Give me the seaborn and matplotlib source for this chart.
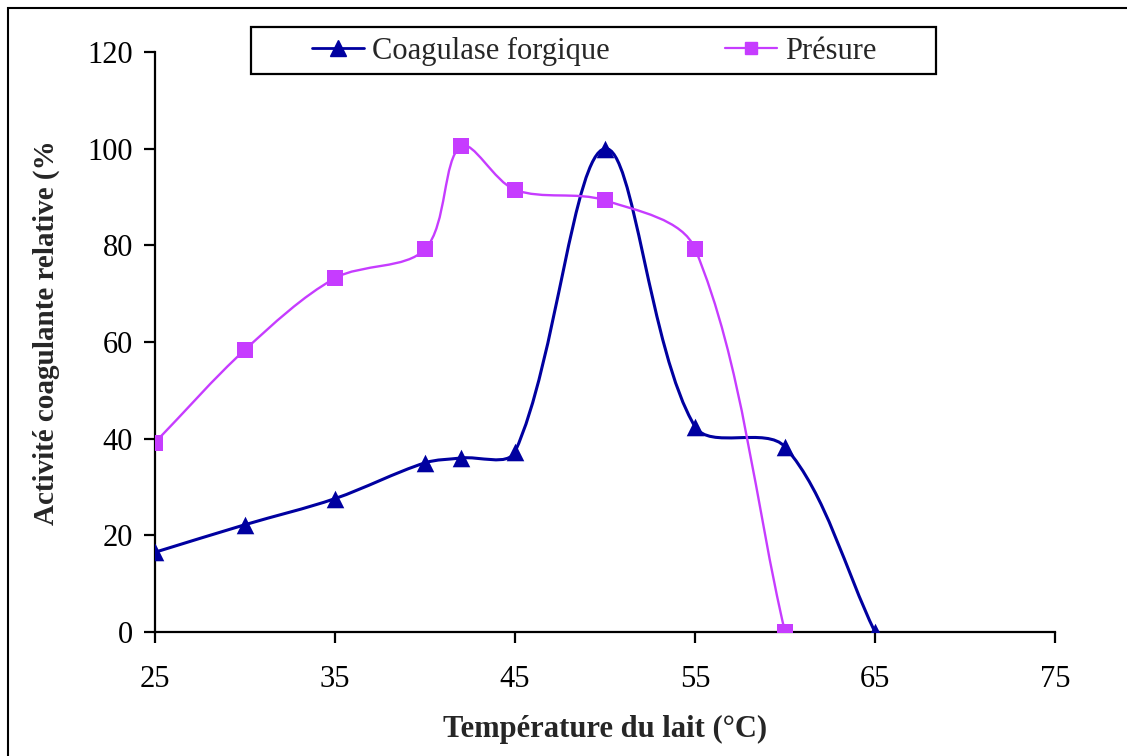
import numpy as np
import matplotlib
matplotlib.use("Agg")
import matplotlib.pyplot as plt
import seaborn as sns
import pandas as pd
from matplotlib.path import Path
from matplotlib.patches import PathPatch, Rectangle
from matplotlib.lines import Line2D

# Data
temp_coag = [25, 30, 35, 40, 42, 45, 50, 55, 60, 65]
coagulase = [16.5, 22.2, 27.6, 35.0, 36.0, 37.3, 100.0, 42.5, 38.3, 0.0]
temp_pres = [25, 30, 35, 40, 42, 45, 50, 55, 60]
presure = [39.2, 58.4, 73.2, 79.2, 100.5, 91.5, 89.3, 79.3, 0.0]
series_names = ["Coagulase forgique", "Présure"]
xticks = [25, 35, 45, 55, 65, 75]
yticks = [0, 20, 40, 60, 80, 100, 120]

BLUE = "#0000a0"
MAG = "#c63cff"

sns.set_theme(style="white")
plt.rcParams["font.family"] = ["Liberation Serif", "DejaVu Serif"]

W, H = 1127, 756
fig = plt.figure(figsize=(W / 100, H / 100), dpi=100)
ax = fig.add_axes([155 / W, 1 - 632 / H, (1055 - 155) / W, (632 - 52) / H])
ax.set_xlim(25, 75)
ax.set_ylim(0, 120)

# outer frame
fig.patches.append(Rectangle((8 / W, -0.05), 1.2, 1 - 8 / H + 0.05, transform=fig.transFigure,
                             fill=False, edgecolor="black", linewidth=1.5))


def smooth_path(xs, ys):
    # Excel-like smoothing: Bezier control points, tangent weighted by segment lengths (screen space)
    pts = ax.transData.transform(np.column_stack([xs, ys]).astype(float))
    n = len(pts)
    verts = [pts[0]]
    codes = [Path.MOVETO]

    def d(a, b):
        return np.hypot(*(pts[b] - pts[a]))

    for i in range(n - 1):
        i0 = max(i - 1, 0)
        i3 = min(i + 2, n - 1)
        p1, p2 = pts[i], pts[i + 1]
        d12 = d(i, i + 1)
        d01 = d(i0, i)
        d23 = d(i + 1, i3)
        w1 = d12 / (d01 + d12) / 3.0
        w2 = d12 / (d12 + d23) / 3.0
        c1 = p1 + (p2 - pts[i0]) * w1
        c2 = p2 - (pts[i3] - p1) * w2
        verts += [c1, c2, p2]
        codes += [Path.CURVE4] * 3
    verts = ax.transData.inverted().transform(np.array(verts))
    return Path(verts, codes)


ax.add_patch(PathPatch(smooth_path(temp_coag, coagulase), fill=False, edgecolor=BLUE, linewidth=2.2, zorder=2))
ax.add_patch(PathPatch(smooth_path(temp_pres, presure), fill=False, edgecolor=MAG, linewidth=1.7, zorder=2))

df_c = pd.DataFrame({"T": temp_coag, "v": coagulase})
df_p = pd.DataFrame({"T": temp_pres, "v": presure})
sns.scatterplot(data=df_c, x="T", y="v", marker="^", s=160, color=BLUE, edgecolor=BLUE, linewidth=0, ax=ax, zorder=3)
sns.scatterplot(data=df_p, x="T", y="v", marker="s", s=120, color=MAG, edgecolor=MAG, linewidth=0, ax=ax, zorder=3)

ax.set_xlim(25, 75)
ax.set_ylim(0, 120)
ax.set_xticks(xticks)
ax.set_yticks(yticks)
for s in ["top", "right"]:
    ax.spines[s].set_visible(False)
for s in ["left", "bottom"]:
    ax.spines[s].set_color("black")
    ax.spines[s].set_linewidth(1.6)
ax.tick_params(axis="both", which="major", direction="out", length=8, width=1.6, color="black",
               labelsize=22, labelcolor="black", left=True, bottom=True)
ax.tick_params(axis="x", pad=16)
ax.tick_params(axis="y", pad=8)
ax.set_xlabel("Température du lait (°C)", fontsize=22, fontweight="bold")
ax.set_ylabel("Activité coagulante relative (%", fontsize=21, fontweight="bold")
ax.xaxis.set_label_coords(0.5, -0.143)
ax.yaxis.set_label_coords(-0.105, 0.517)
ax.grid(False)

# legend box
fig.patches.append(Rectangle((251 / W, 1 - 74 / H), (936 - 251) / W, (74 - 27) / H, transform=fig.transFigure,
                             fill=True, facecolor="white", edgecolor="black", linewidth=1.6, zorder=5))
handles = [
    Line2D([], [], color=BLUE, marker="^", markersize=12, linewidth=2.0),
    Line2D([], [], color=MAG, marker="s", markersize=9, linewidth=1.6),
]
leg = fig.legend(handles, series_names, loc="center left", ncol=2,
                 bbox_to_anchor=(312 / W, 1 - 51 / H), bbox_transform=fig.transFigure,
                 frameon=False, fontsize=22, handlelength=1.7, handletextpad=0.25,
                 columnspacing=3.8, borderaxespad=0, borderpad=0)
leg.set_zorder(6)

fig.savefig("out.png", dpi=100)
